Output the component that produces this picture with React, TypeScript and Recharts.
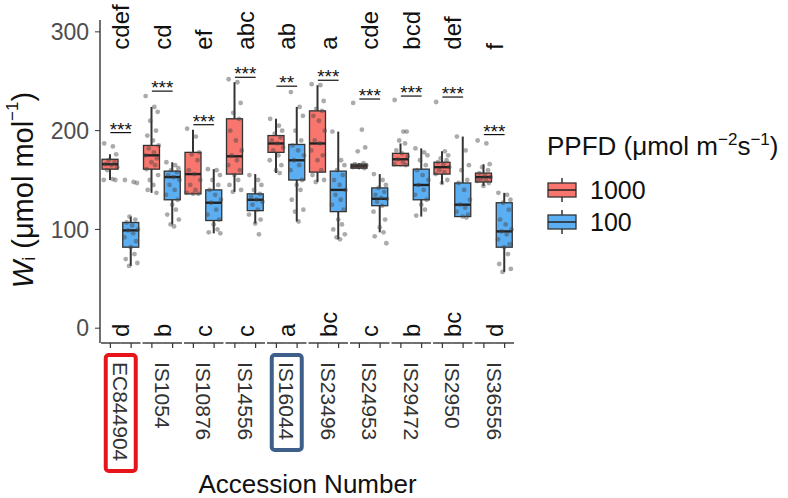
import { Bar, ComposedChart, ReferenceLine, Scatter, XAxis, YAxis } from "recharts"

const accessions = ["EC844904", "IS1054", "IS10876", "IS14556", "IS16044", "IS23496", "IS24953", "IS29472", "IS2950", "IS36556"]
const levels = ["1000", "100"]
const fills = ["#F8766D", "#5BAEF2"]

// box stats, PPFD 1000
const lo1000 = [150, 137, 136, 138, 157, 148, 161, 164, 146, 144]
const q1_1000 = [161, 161, 136, 156, 178, 158, 162, 164.5, 156, 148]
const med1000 = [166, 175, 156, 174, 187, 187, 164, 171, 163, 153]
const q3_1000 = [171, 185, 178, 212, 195, 220, 166, 177, 168, 157]
const hi1000 = [176, 224, 201, 249, 212, 246, 167, 187, 179, 166]

// box stats, PPFD 100
const lo100 = [63, 105, 96, 106, 108, 90, 97, 113, 113, 57]
const q1_100 = [82, 130, 109, 119, 150, 118, 124, 130, 113, 82]
const med100 = [99, 153, 127, 130, 170, 140, 131, 145, 125, 98]
const q3_100 = [107, 159, 140, 136, 186, 159, 142, 161, 147, 127]
const hi100 = [113, 168, 161, 156, 224, 199, 156, 182, 194, 137]

// raw observations
const obs1000 = [
    [187, 184, 176, 170, 168, 166, 165, 163, 160, 151, 150, 150],
    [235, 224, 219, 210, 200, 195, 190, 185, 182, 178, 175, 172, 168, 165, 161, 155, 150, 145, 140, 137],
    [202, 194, 178, 176, 170, 160, 156, 150, 145, 140, 137, 136, 136],
    [252, 249, 228, 218, 212, 200, 190, 180, 175, 170, 165, 160, 155, 150, 145, 140, 138],
    [212, 205, 200, 197, 193, 190, 187, 183, 180, 175, 170, 165, 160, 157],
    [247, 246, 230, 222, 220, 215, 210, 200, 190, 187, 180, 175, 170, 160, 155, 150, 148],
    [228, 201, 183, 179, 167, 166, 165, 165, 164, 164, 163, 162],
    [231, 199, 199, 190, 187, 180, 177, 174, 171, 168, 166, 165],
    [229, 179, 175, 172, 170, 168, 166, 163, 160, 158, 156, 150, 147],
    [190, 187, 166, 163, 160, 157, 155, 153, 151, 150, 149, 147, 144],
]
const obs100 = [
    [150, 148, 147, 113, 110, 107, 104, 100, 99, 96, 92, 88, 82, 75, 70, 66, 63],
    [168, 165, 162, 160, 158, 155, 153, 150, 145, 140, 135, 130, 125, 120, 115, 110, 105, 103],
    [161, 160, 155, 150, 145, 140, 135, 130, 127, 120, 115, 110, 105, 100, 97, 96],
    [155, 150, 145, 140, 136, 133, 130, 128, 125, 120, 115, 110, 106, 95],
    [239, 224, 215, 200, 190, 185, 180, 175, 170, 165, 160, 150, 145, 140, 130, 120, 118, 108],
    [199, 170, 165, 160, 155, 150, 145, 140, 135, 130, 125, 120, 110, 105, 100, 95, 92, 90],
    [156, 150, 145, 142, 138, 135, 132, 131, 128, 124, 118, 110, 102, 97, 93, 86],
    [182, 178, 175, 170, 165, 160, 155, 150, 145, 140, 135, 130, 125, 120, 114],
    [194, 180, 165, 160, 150, 147, 140, 130, 125, 122, 118, 115, 113, 112],
    [137, 135, 130, 127, 120, 110, 105, 100, 98, 95, 90, 85, 82, 75, 65, 60, 57],
]
const jitter = [-0.3, 0.12, 0.28, -0.08, 0.2, -0.22, 0.05, 0.33, -0.15, 0.1, -0.32, 0.24, -0.02, 0.16, -0.26, 0.3, -0.1, 0.07, -0.2, 0.22]

const topLetters = ["cdef", "cd", "ef", "abc", "ab", "a", "cde", "bcd", "def", "f"]
const bottomLetters = ["d", "b", "c", "c", "a", "bc", "c", "b", "bc", "d"]
const sigLabels = ["***", "***", "***", "***", "**", "***", "***", "***", "***", "***"]
const sigY = [198, 240, 206, 254, 245, 251, 232, 235, 234, 196]
const TOP_Y = 282
const BOTTOM_Y = -9

const yTicks = [0, 100, 200, 300]

const stats = [
    { lo: lo1000, q1: q1_1000, med: med1000, q3: q3_1000, hi: hi1000, obs: obs1000 },
    { lo: lo100, q1: q1_100, med: med100, q3: q3_100, hi: hi100, obs: obs100 },
]

const rows = accessions.flatMap((acc, i) =>
    levels.map((lev, k) => ({
        key: `${acc}|${lev}`,
        acc,
        k,
        lo: stats[k].lo[i],
        q1: stats[k].q1[i],
        med: stats[k].med[i],
        q3: stats[k].q3[i],
        hi: stats[k].hi[i],
    }))
)

const points = accessions.flatMap((_, i) =>
    levels.flatMap((_l, k) =>
        stats[k].obs[i].map((v, j) => ({ x: 2 * i + k + 0.5 + jitter[j % jitter.length], y: v }))
    )
)

const topData = accessions.map((_, i) => ({ x: 2 * i + 1, y: TOP_Y, label: topLetters[i] }))
const bottomData = accessions.map((_, i) => ({ x: 2 * i + 1, y: BOTTOM_Y, label: bottomLetters[i] }))
const sigData = accessions.map((_, i) => ({ x: 2 * i + 1, y: sigY[i], label: sigLabels[i] }))

const W = 788
const H = 498
const PLOT_L = 100
const PLOT_W = 415
const PLOT_B = 343
const BW = PLOT_W / 20

function BoxShape(props: any) {
    const { x, y, width, height, payload } = props
    const top = Math.min(y, y + height)
    const h = Math.abs(height)
    const span = payload.hi - payload.lo || 1
    const py = (v: number) => top + (h * (payload.hi - v)) / span
    const cx = x + width / 2
    return (
        <g>
            <line x1={cx} x2={cx} y1={py(payload.hi)} y2={py(payload.lo)} stroke="#333" strokeWidth={2} />
            <rect x={x} y={py(payload.q3)} width={width} height={Math.max(py(payload.q1) - py(payload.q3), 1)} fill={fills[payload.k]} stroke="#333" strokeWidth={1.3} />
            <line x1={x} x2={x + width} y1={py(payload.med)} y2={py(payload.med)} stroke="#222" strokeWidth={2.4} />
        </g>
    )
}

function FacetTick(props: any) {
    const { x, payload } = props
    const idx = rows.findIndex((r) => r.key === payload.value)
    const first = idx % 2 === 0
    const x1 = first ? x - BW / 2 + 1 : x - BW / 2
    const x2 = first ? x + BW / 2 : x + BW / 2 - 1
    const cx = first ? x + BW / 2 : x - BW / 2
    const acc = rows[idx]?.acc
    return (
        <g>
            <line x1={x1} x2={x2} y1={PLOT_B} y2={PLOT_B} stroke="#111" strokeWidth={1.2} />
            <line x1={x} x2={x} y1={PLOT_B} y2={PLOT_B + 5} stroke="#333" strokeWidth={1.2} />
            {first && (
                <text x={cx} y={362} transform={`rotate(90 ${cx} 362)`} textAnchor="start" dominantBaseline="central" fontSize={21} fill="#333">
                    {acc}
                </text>
            )}
            {first && acc === "EC844904" && (
                <rect x={cx - 15} y={355} width={30} height={116} rx={3} fill="none" stroke="#E8141B" strokeWidth={4} />
            )}
            {first && acc === "IS16044" && (
                <rect x={cx - 15} y={355} width={30} height={95} rx={3} fill="none" stroke="#3E5F8A" strokeWidth={4} />
            )}
        </g>
    )
}

function RotText(size: number) {
    return (props: any) => {
        const { cx, cy, payload } = props
        return (
            <text x={cx} y={cy} transform={`rotate(-90 ${cx} ${cy})`} textAnchor="start" dominantBaseline="central" fontSize={size} fill="#111">
                {payload.label}
            </text>
        )
    }
}

function SigText(props: any) {
    const { cx, cy, payload } = props
    return (
        <text x={cx} y={cy + 3} textAnchor="middle" fontSize={19} fill="#111">
            {payload.label}
        </text>
    )
}

function Dot(props: any) {
    return <circle cx={props.cx} cy={props.cy} r={2.4} fill="#444" fillOpacity={0.45} />
}

function LegendKey({ y, fill, label }: { y: number; fill: string; label: string }) {
    return (
        <g>
            <line x1={562} x2={562} y1={y - 12} y2={y + 12} stroke="#333" strokeWidth={1.5} />
            <rect x={548} y={y - 7} width={28} height={14} fill={fill} stroke="#333" strokeWidth={1.3} />
            <line x1={548} x2={576} y1={y} y2={y} stroke="#222" strokeWidth={1.5} />
            <text x={590} y={y + 9} fontSize={25} fill="#111">
                {label}
            </text>
        </g>
    )
}

export default function App() {
    return (
        <div style={{ position: "absolute", left: 0, top: 0, width: W, height: H, fontFamily: "Arial, 'Liberation Sans', sans-serif" }}>
            <ComposedChart width={W} height={H} data={rows} margin={{ top: 20, right: W - PLOT_L - PLOT_W, bottom: 0, left: 0 }}>
                <XAxis xAxisId="cat" dataKey="key" type="category" height={H - PLOT_B} interval={0} tickLine={false} axisLine={false} tick={<FacetTick />} />
                <XAxis xAxisId="pts" dataKey="x" type="number" domain={[0, 20]} hide />
                <YAxis
                    type="number"
                    width={PLOT_L}
                    domain={[-15, 312]}
                    ticks={yTicks}
                    tick={{ fontSize: 23, fill: "#4D4D4D" }}
                    tickSize={5}
                    tickMargin={6}
                    tickLine={{ stroke: "#333" }}
                    axisLine={{ stroke: "#111", strokeWidth: 1.2 }}
                />
                <Bar xAxisId="cat" dataKey={(d: any) => [d.lo, d.hi]} barSize={16} shape={<BoxShape />} isAnimationActive={false} />
                <Scatter xAxisId="pts" data={points} dataKey="y" shape={<Dot />} isAnimationActive={false} />
                {sigY.map((v, i) => (
                    <ReferenceLine key={i} xAxisId="pts" segment={[{ x: 2 * i + 0.5, y: v }, { x: 2 * i + 1.5, y: v }]} stroke="#111" strokeWidth={1.2} />
                ))}
                <Scatter xAxisId="pts" data={sigData} dataKey="y" shape={<SigText />} isAnimationActive={false} />
                <Scatter xAxisId="pts" data={topData} dataKey="y" shape={RotText(24)} isAnimationActive={false} />
                <Scatter xAxisId="pts" data={bottomData} dataKey="y" shape={RotText(24)} isAnimationActive={false} />
            </ComposedChart>
            <svg width={W} height={H} style={{ position: "absolute", left: 0, top: 0, pointerEvents: "none" }}>
                <text transform="translate(23 190) rotate(-90)" textAnchor="middle" dominantBaseline="central" fontSize={29} fill="#111">
                    <tspan fontStyle="italic">W</tspan>
                    <tspan fontSize={18} dy={6}>i</tspan>
                    <tspan dy={-6}> (μmol mol</tspan>
                    <tspan fontSize={17} dy={-11}>−1</tspan>
                    <tspan dy={11}>)</tspan>
                </text>
                <text x={PLOT_L + PLOT_W / 2} y={493} textAnchor="middle" fontSize={26} fill="#111">
                    Accession Number
                </text>
                <text x={547} y={155} fontSize={26} fill="#111">
                    PPFD (μmol m<tspan fontSize={17} dy={-10}>−2</tspan>
                    <tspan dy={10}>s</tspan>
                    <tspan fontSize={17} dy={-10}>−1</tspan>
                    <tspan dy={10}>)</tspan>
                </text>
                <LegendKey y={190} fill={fills[0]} label={levels[0]} />
                <LegendKey y={222} fill={fills[1]} label={levels[1]} />
            </svg>
        </div>
    )
}
